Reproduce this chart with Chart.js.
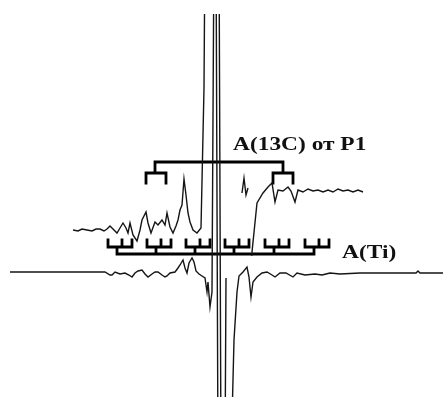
<!DOCTYPE html>
<html>
<head>
<meta charset="utf-8" />
<title>A(13C) / A(Ti)</title>
<script src="https://cdn.jsdelivr.net/npm/chart.js@4/dist/chart.umd.min.js"></script>
<style>
  html, body { margin: 0; padding: 0; background: #fff; }
  canvas { display: block; }
</style>
</head>
<body>
<canvas id="spec" width="447" height="397"></canvas>
<script>
// field positions (x) and signal levels (y, plotted downwards)
const lowerX = [10,105,110,112,115,120,125,129,132,135,138,142,145,148,152,155,158,162,165,167,170,175,178,180,183,185,187,189,192,194,196,199,202,205,207,208,210,212,214,216,218,231,234,237,239,243,247,249,251,253,257,262,267,272,275,280,286,293,297,305,315,322,330,340,360,380,410,416,418,420,443];
const lowerY = [272,272,275,275,272,274,273,275,277,273,271,270,274,277,274,272,272,275,277,276,273,272,268,265,260,268,273,263,258,262,271,274,276,278,292,282,307,292,-60,-60,460,460,340,292,276,272,267,277,297,282,277,273,272,275,277,273,273,277,273,275,274,275,273,274,273,273,273,273,271,273,273];

const upperX = [73,78,82,87,92,96,100,104,107,110,113,117,120,123,126,128,130,133,137,140,142,146,148,151,155,158,162,165,167,170,173,176,178,180,182,184,186,188,190,193,197,201,204,205,219,221,225,226,null,242,244,246,248,null,251,252,257,263,268,272,275,278,283,288,291,295,298,303,308,313,318,323,328,333,338,343,348,353,358,363];
const upperY = [230,231,229,230,231,229,229,231,229,226,229,233,228,223,228,233,223,235,241,230,220,212,223,233,222,225,220,225,213,227,233,226,220,210,205,179,195,213,222,230,233,228,88,-60,-60,460,460,278,null,193,178,195,188,null,255,252,203,193,187,183,202,190,191,187,191,202,190,192,189,191,190,192,190,192,189,191,190,192,190,192];

// A(13C) splitting tree
const c13Centers = [155, 283];
const c13Lines = [146, 166, 273, 293];
const c13Levels = [162, 173, 183];   // main bar, sub bar, line ends

// A(Ti) splitting tree
const tiGroups = [108, 147, 186, 225, 265, 305];
const tiLineOffsets = [0, 14, 24];
const tiStemOffset = 9;
const tiLevels = [240, 247, 254];   // line tops, sub bar, main bar

const labels = [
  { text: 'A(13C) от P1', x: 233, y: 150 },
  { text: 'A(Ti)', x: 342, y: 258 }
];

function pairs(xs, ys) {
  return xs.map((x, i) => (x === null ? { x: NaN, y: null } : { x: x, y: ys[i] }));
}

function seg(out, x1, y1, x2, y2) {
  out.push({ x: x1, y: y1 }, { x: x2, y: y2 }, { x: x2, y: null });
}

const c13Tree = [];
seg(c13Tree, c13Centers[0], c13Levels[0], c13Centers[1], c13Levels[0]);
c13Centers.forEach((c, i) => {
  const a = c13Lines[i * 2], b = c13Lines[i * 2 + 1];
  seg(c13Tree, c, c13Levels[0], c, c13Levels[1]);
  seg(c13Tree, a, c13Levels[1], b, c13Levels[1]);
  seg(c13Tree, a, c13Levels[1], a, c13Levels[2]);
  seg(c13Tree, b, c13Levels[1], b, c13Levels[2]);
});

const tiTree = [];
seg(tiTree, tiGroups[0] + tiStemOffset, tiLevels[2], tiGroups[tiGroups.length - 1] + tiStemOffset, tiLevels[2]);
tiGroups.forEach(g => {
  seg(tiTree, g, tiLevels[1], g + tiLineOffsets[2], tiLevels[1]);
  seg(tiTree, g + tiStemOffset, tiLevels[1], g + tiStemOffset, tiLevels[2]);
  tiLineOffsets.forEach(o => seg(tiTree, g + o, tiLevels[0], g + o, tiLevels[1]));
});

const labelPlugin = {
  id: 'labels',
  afterDraw(chart) {
    const ctx = chart.ctx, sx = chart.scales.x, sy = chart.scales.y;
    ctx.save();
    ctx.fillStyle = '#111';
    ctx.font = 'bold 18px "Liberation Serif", "DejaVu Serif", serif';
    ctx.textBaseline = 'alphabetic';
    labels.forEach(l => {
      ctx.save();
      ctx.translate(sx.getPixelForValue(l.x), sy.getPixelForValue(l.y));
      ctx.scale(1.3, 1);
      ctx.fillText(l.text, 0, 0);
      ctx.restore();
    });
    ctx.restore();
  }
};

const lineStyle = { showLine: true, pointRadius: 0, spanGaps: false, tension: 0, clip: 0, fill: false };

new Chart(document.getElementById('spec'), {
  type: 'line',
  data: {
    datasets: [
      Object.assign({ data: pairs(lowerX, lowerY), borderColor: '#151515', borderWidth: 1.4 }, lineStyle),
      Object.assign({ data: pairs(upperX, upperY), borderColor: '#151515', borderWidth: 1.4 }, lineStyle),
      Object.assign({ data: c13Tree, borderColor: '#000', borderWidth: 2.8, borderCapStyle: 'square' }, lineStyle),
      Object.assign({ data: tiTree, borderColor: '#000', borderWidth: 2.8, borderCapStyle: 'square' }, lineStyle)
    ]
  },
  options: {
    responsive: false,
    animation: false,
    devicePixelRatio: 1,
    layout: { padding: { top: 14, left: 0, right: 0, bottom: 0 } },
    plugins: { legend: { display: false }, tooltip: { enabled: false } },
    scales: {
      x: { type: 'linear', min: 0, max: 447, display: false },
      y: { type: 'linear', min: 14, max: 397, reverse: true, display: false }
    }
  },
  plugins: [labelPlugin]
});
</script>
</body>
</html>
